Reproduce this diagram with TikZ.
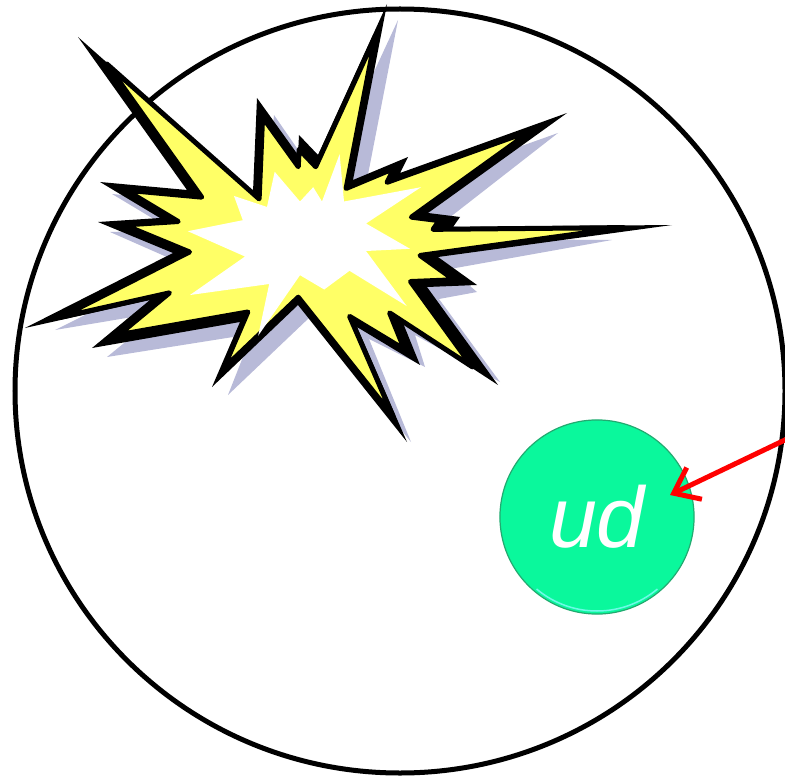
\documentclass[tikz,border=0pt]{standalone}
\usepackage{fontspec}
\newfontfamily\labelfont{Liberation Sans}
\usetikzlibrary{arrows.meta}
\definecolor{blastyellow}{RGB}{255,255,102}
\definecolor{blastshadow}{RGB}{184,186,216}
\definecolor{ballgreen}{RGB}{10,248,156}
\definecolor{ballrim}{RGB}{34,170,112}
\definecolor{ballglint}{RGB}{110,250,230}
\newcommand\blastpath{(78,37) -- (187,190) -- (100,182) -- (160,218) -- (98,222)
  -- (173,253) -- (25,328) -- (150,300) -- (92,348) -- (240,322) -- (212,387)
  -- (298,305) -- (407,442) -- (357,327) -- (420,365) -- (403,323) -- (498,385)
  -- (427,287) -- (477,285) -- (438,257) -- (672,225) -- (453,227) -- (460,217)
  -- (428,213) -- (567,113) -- (400,173) -- (408,157) -- (353,180) -- (387,4)
  -- (318,155) -- (299,135) -- (298,155) -- (257,98) -- (253,192) -- cycle}
\tikzset{
  rim/.style={line width=0.05cm},
  ball/.style={circle, minimum size=1.94cm, inner sep=0pt, fill=ballgreen,
    draw=ballrim, line width=0.012cm, text=white,
    font=\labelfont\itshape\fontsize{24.5}{24.5}\selectfont},
  hitarrow/.style={red, line width=0.05cm, -{Straight Barb[length=6.5pt,width=10pt]}}
}
\begin{document}
\begin{tikzpicture}[x=0.01cm,y=-0.01cm]
\useasboundingbox (0,0) rectangle (785,776);
\draw[rim] (400,391) ellipse [x radius=385, y radius=382];
% blast: shadow, outline, fill, hot core
\fill[blastshadow] (90,50) -- (199,202) -- (112,194) -- (172,230) -- (110,232)
  -- (185,265) -- (55,330) -- (162,312) -- (107,357) -- (252,334) -- (228,395)
  -- (310,317) -- (411,442) -- (369,339) -- (425,367) -- (415,335) -- (500,382)
  -- (439,299) -- (477,292) -- (450,269) -- (612,240) -- (465,239) -- (470,228)
  -- (440,225) -- (558,133) -- (412,185) -- (418,168) -- (365,190) -- (398,20)
  -- (330,167) -- (310,147) -- (310,167) -- (274,115) -- (265,204) -- cycle;
\fill[black] \blastpath;
\begin{scope}[shift={(300,245)},scale=0.87,shift={(-300,-245)}]
\filldraw[fill=blastyellow, draw=black, line width=0.05cm, line join=round] \blastpath;
\end{scope}
\begin{scope}[shift={(300,240)},scale=1.1,shift={(-300,-240)}]
\fill[white] (198,232) -- (248,222) -- (240,200) -- (270,210) -- (277,178)
  -- (300,205) -- (312,192) -- (320,205) -- (336,162) -- (340,205) -- (410,192)
  -- (360,225) -- (400,248) -- (360,250) -- (397,300) -- (345,268) -- (322,285)
  -- (300,272) -- (262,327) -- (272,280) -- (200,290) -- (250,255) -- cycle;
\end{scope}
% the ud ball and the arrow into it
\node[ball] (ud) at (597,517) {ud};
\draw[ballglint, line width=0.015cm] (597,517) ++(130:94) arc[start angle=130, end angle=50, radius=94];
\coordinate (src) at (787,439);
\coordinate (hit) at (670,495);
\draw[hitarrow] (src) -- (hit);
\end{tikzpicture}
\end{document}
